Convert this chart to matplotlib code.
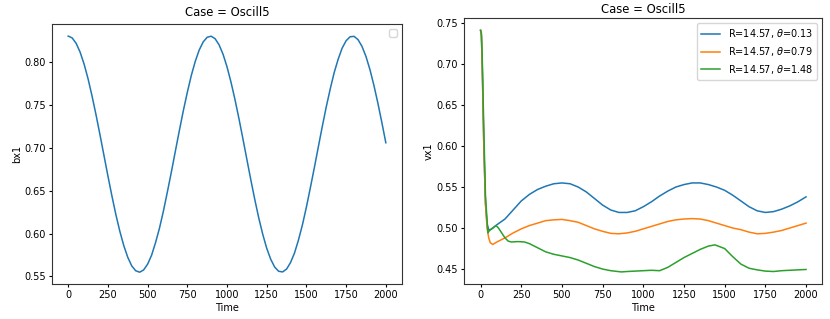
import numpy as np
import matplotlib
matplotlib.use('Agg')
import matplotlib.pyplot as plt

# left panel: bx1 vs time (read every 25 time units)
t_bx = list(range(0, 2001, 25))
bx1 = [0.8300, 0.8279, 0.8216, 0.8114, 0.7975, 0.7804, 0.7604, 0.7386, 0.7153,
       0.6913, 0.6673, 0.6441, 0.6223, 0.6028, 0.5860, 0.5724, 0.5624, 0.5567,
       0.5550, 0.5576, 0.5643, 0.5747, 0.5894, 0.6064, 0.6265, 0.6489, 0.6720,
       0.6961, 0.7200, 0.7431, 0.7644, 0.7840, 0.8005, 0.8138, 0.8232, 0.8286,
       0.8299, 0.8270, 0.8199, 0.8089, 0.7943, 0.7765, 0.7563, 0.7341, 0.7106,
       0.6865, 0.6626, 0.6396, 0.6182, 0.5992, 0.5829, 0.5702, 0.5610, 0.5561,
       0.5553, 0.5586, 0.5662, 0.5773, 0.5925, 0.6102, 0.6309, 0.6535, 0.6768,
       0.7009, 0.7248, 0.7476, 0.7685, 0.7876, 0.8031, 0.8160, 0.8246, 0.8292,
       0.8297, 0.8259, 0.8180, 0.8063, 0.7910, 0.7727, 0.7519, 0.7294, 0.7058]

# right panel: vx1 vs time, three runs
labels = [r'R=14.57, $\theta$=0.13', r'R=14.57, $\theta$=0.79', r'R=14.57, $\theta$=1.48']

t_blue = [0, 5, 10, 20, 30, 40, 50, 60, 75, 100, 150, 200, 250, 300, 350, 400,
          450, 500, 550, 600, 650, 700, 750, 800, 850, 900, 950, 1000, 1050,
          1100, 1150, 1200, 1250, 1300, 1350, 1400, 1450, 1500, 1550, 1600,
          1650, 1700, 1750, 1800, 1850, 1900, 1950, 2000]
vx_blue = [0.741, 0.735, 0.700, 0.600, 0.530, 0.505, 0.498, 0.498, 0.500, 0.504,
           0.511, 0.522, 0.533, 0.541, 0.547, 0.551, 0.554, 0.555, 0.554, 0.550,
           0.544, 0.536, 0.528, 0.522, 0.519, 0.519, 0.521, 0.526, 0.532, 0.539,
           0.545, 0.550, 0.553, 0.555, 0.555, 0.553, 0.550, 0.546, 0.540, 0.533,
           0.526, 0.521, 0.519, 0.520, 0.523, 0.527, 0.532, 0.538]

t_orange = [0, 5, 10, 20, 30, 40, 50, 60, 75, 100, 150, 200, 250, 300, 350,
            400, 450, 500, 550, 600, 650, 700, 750, 800, 850, 900, 950, 1000,
            1050, 1100, 1150, 1200, 1250, 1300, 1350, 1400, 1450, 1500, 1550,
            1600, 1650, 1700, 1750, 1800, 1850, 1900, 1950, 2000]
vx_orange = [0.741, 0.735, 0.700, 0.600, 0.530, 0.500, 0.488, 0.482, 0.480,
             0.483, 0.488, 0.494, 0.499, 0.503, 0.506, 0.509, 0.510, 0.5105,
             0.509, 0.507, 0.503, 0.499, 0.496, 0.4935, 0.493, 0.494, 0.496,
             0.499, 0.502, 0.505, 0.508, 0.510, 0.511, 0.5115, 0.511, 0.509,
             0.506, 0.503, 0.500, 0.498, 0.495, 0.493, 0.4935, 0.495, 0.497,
             0.500, 0.503, 0.506]

t_green = [0, 5, 10, 20, 30, 45, 55, 75, 95, 110, 130, 150, 170, 190, 230,
           270, 300, 350, 400, 450, 500, 550, 600, 650, 700, 750, 800, 865,
           900, 950, 1000, 1050, 1100, 1150, 1200, 1250, 1300, 1350, 1400,
           1440, 1500, 1550, 1600, 1650, 1700, 1750, 1800, 1850, 1900, 1950, 2000]
vx_green = [0.741, 0.738, 0.710, 0.620, 0.540, 0.494, 0.497, 0.500, 0.503,
            0.500, 0.494, 0.488, 0.484, 0.483, 0.4835, 0.483, 0.481, 0.476,
            0.471, 0.468, 0.466, 0.464, 0.461, 0.457, 0.453, 0.450, 0.448,
            0.4465, 0.447, 0.4475, 0.448, 0.4485, 0.448, 0.452, 0.458, 0.464,
            0.469, 0.474, 0.478, 0.4795, 0.475, 0.465, 0.456, 0.451, 0.449,
            0.4475, 0.447, 0.448, 0.4485, 0.449, 0.4495]

fs = 7
fig = plt.figure(figsize=(8.3, 3.19), dpi=100)

ax1 = fig.add_axes([52.3 / 830, 35 / 319, 349.4 / 830, 259.7 / 319])
ax1.plot(t_bx, bx1, color='#1f77b4', lw=1.1)
ax1.set_title('Case = Oscill5', fontsize=8.4)
ax1.set_xlabel('Time', fontsize=fs, labelpad=2)
ax1.set_ylabel('bx1', fontsize=fs, labelpad=2)
ax1.set_xticks([0, 250, 500, 750, 1000, 1250, 1500, 1750, 2000])
ax1.set_yticks([0.55, 0.60, 0.65, 0.70, 0.75, 0.80])
ax1.tick_params(labelsize=fs, length=2.5, pad=2)
ax1.legend(fontsize=fs)

ax2 = fig.add_axes([464.3 / 830, 35 / 319, 358 / 830, 265.7 / 319])
ax2.plot(t_blue, vx_blue, color='#1f77b4', lw=1.1, label=labels[0])
ax2.plot(t_orange, vx_orange, color='#ff7f0e', lw=1.1, label=labels[1])
ax2.plot(t_green, vx_green, color='#2ca02c', lw=1.1, label=labels[2])
ax2.set_title('Case = Oscill5', fontsize=8.4, pad=4)
ax2.set_xlabel('Time', fontsize=fs, labelpad=2)
ax2.set_ylabel('vx1', fontsize=fs, labelpad=2)
ax2.set_xticks([0, 250, 500, 750, 1000, 1250, 1500, 1750, 2000])
ax2.set_yticks([0.45, 0.50, 0.55, 0.60, 0.65, 0.70, 0.75])
ax2.tick_params(labelsize=fs, length=2.5, pad=2)
ax2.legend(fontsize=fs, loc='upper right')

for ax in (ax1, ax2):
    for s in ax.spines.values():
        s.set_linewidth(0.8)
        s.set_color('#333333')

fig.savefig('out.png', dpi=100)
